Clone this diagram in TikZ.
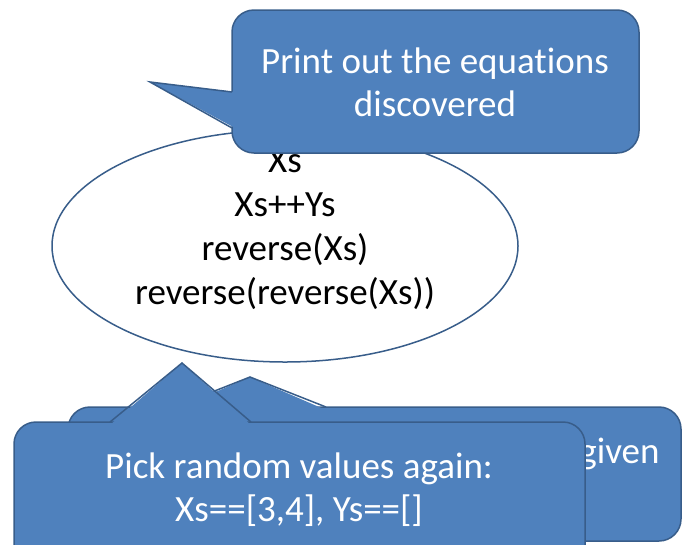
\documentclass[tikz,border=0pt]{standalone}
\usepackage{fontspec}
\setmainfont{Carlito}[Ligatures=NoCommon]
\definecolor{calloutfill}{HTML}{4F81BD}
\definecolor{calloutline}{HTML}{385D8A}
\tikzset{
  callout/.style={fill=calloutfill, draw=calloutline, line width=1.5pt, rounded corners=22pt},
  tail/.style={draw=calloutline, line width=1.5pt},
  calltext/.style={text=white, align=center, font=\fontsize{37}{43}\selectfont},
  termtext/.style={anchor=base, font=\fontsize{37}{44}\selectfont}
}
\begin{document}
\begin{tikzpicture}[x=1pt,y=-1pt]
  \useasboundingbox (0,0) rectangle (682,544);
  \clip (0,0) rectangle (682,544);
  % ellipse with the terms
  \draw[calloutline, line width=1.5pt, fill=white] (285,246) ellipse [x radius=233, y radius=116];
  \foreach \t [count=\i] in {Xs, Xs++Ys, reverse(Xs), reverse(reverse(Xs))}
    \node[termtext] (term\i) at (285,128+44*\i) {\t};
  % top callout
  \draw[callout] (232,10) rectangle (639,153);
  \fill[calloutfill] (235,92) -- (150,82) -- (235,128) -- cycle;
  \draw[tail] (232,92) -- (150,82) -- (232,128);
  \node[calltext] (print) at (435,82) {Print out the equations\\discovered};
  % bottom callouts, the back one first
  \draw[callout] (68,407) rectangle (681,541);
  \fill[calloutfill] (174,410) -- (250,377) -- (326,410) -- cycle;
  \draw[tail] (174,407) -- (250,377) -- (326,407);
  \node[calltext, anchor=base east] (given) at (663,463) {given};
  \draw[callout] (14,422) rectangle (585,570);
  \fill[calloutfill] (110,425) -- (182,363) -- (251,425) -- cycle;
  \draw[tail] (110,422) -- (182,363) -- (251,422);
  \node[calltext] (again) at (299,490) {Pick random values again:\\Xs==[3,4], Ys==[]};
\end{tikzpicture}
\end{document}
